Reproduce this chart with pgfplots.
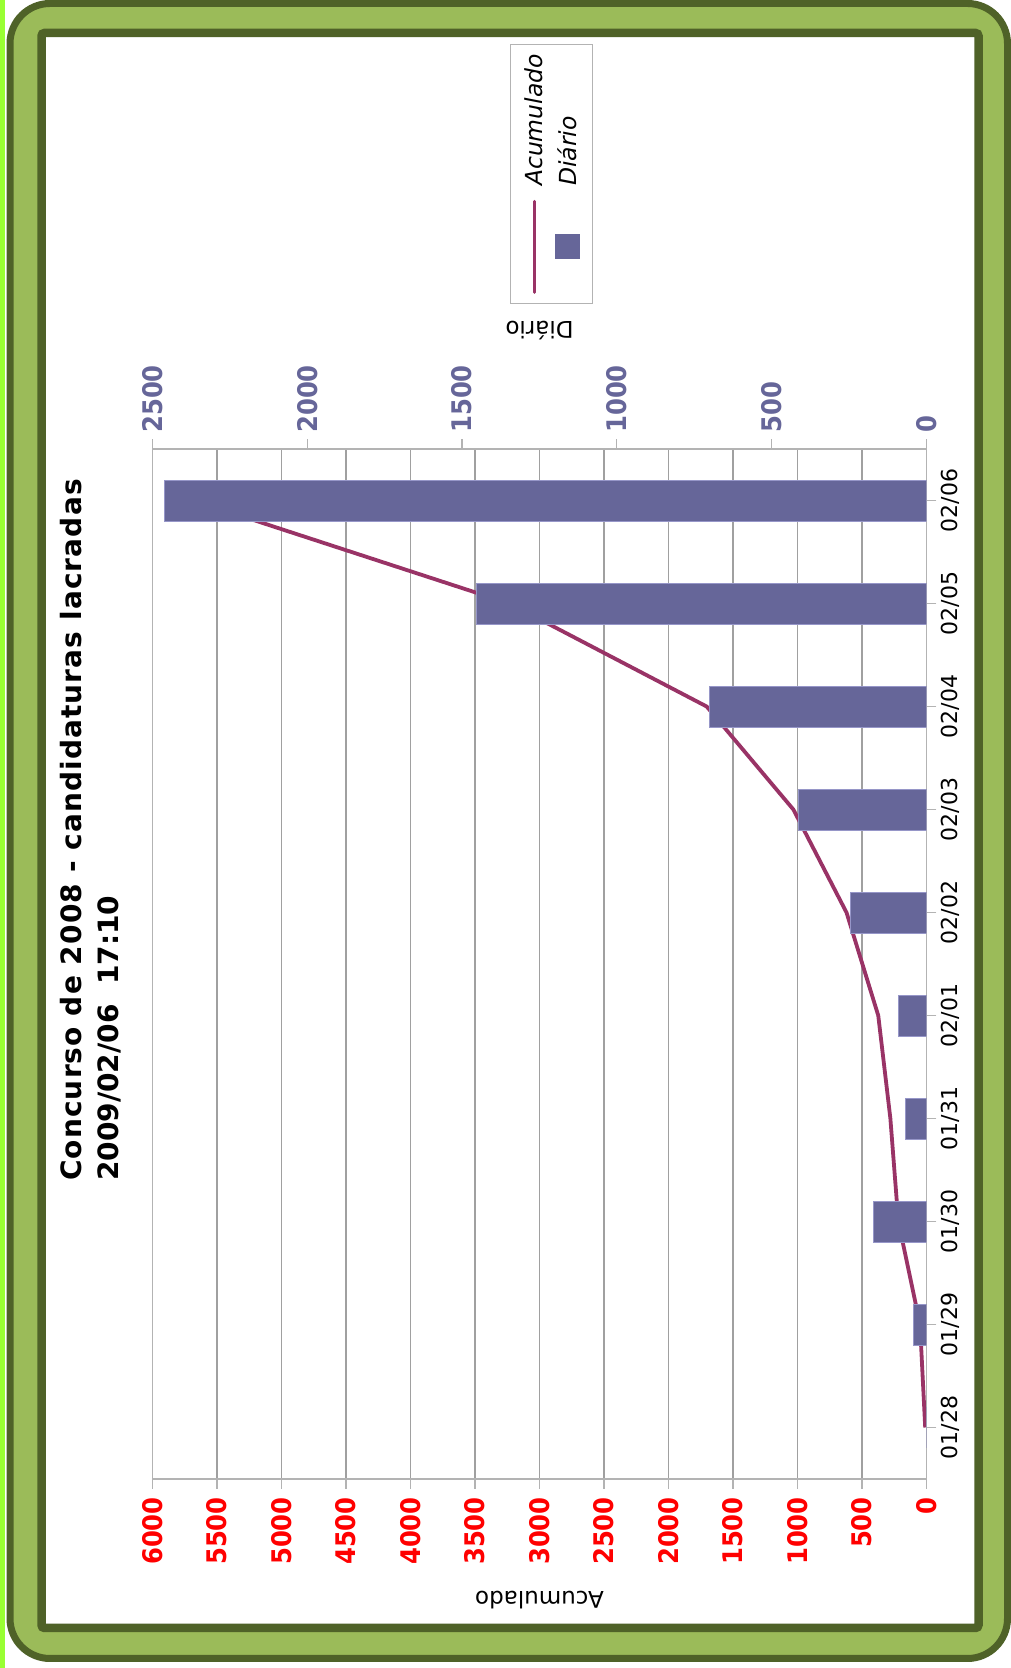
\documentclass[border=0pt]{standalone}
\usepackage{fontspec}
\setmainfont{DejaVu Sans}
\newfontfamily\tickfont[FakeStretch=0.9]{DejaVu Sans}
\usepackage{pgfplots}
\usepackage{pgfplotstable}
\pgfplotsset{compat=1.18}

\definecolor{frameGreen}{RGB}{155,187,89}
\definecolor{frameDark}{RGB}{79,98,40}
\definecolor{limeEdge}{RGB}{153,255,51}
\definecolor{barBlue}{RGB}{102,102,153}
\definecolor{barEdge}{RGB}{150,150,200}
\definecolor{lineRed}{RGB}{153,51,102}
\definecolor{gridGray}{RGB}{160,160,160}
\definecolor{axisGray}{RGB}{179,179,179}

% legend entries stand on their side, like the rest of the chart
\pgfplotsset{
  acclegend/.style={legend image code/.code={
    \path[draw=none,fill=none] (-16pt,0pt) rectangle (16pt,238pt);
    \draw[lineRed, line width=3pt, line cap=round] (0pt,0pt) -- (0pt,91pt);
    \node[rotate=90, anchor=west, inner sep=0pt, text=black,
      font=\fontsize{23.5}{23.5}\selectfont\itshape] at (0pt,106pt) {Acumulado};
  }},
  sqlegend/.style={legend image code/.code={
    \path[draw=none,fill=none] (-16pt,0pt) rectangle (16pt,238pt);
    \fill[barBlue] (-12pt,33.5pt) rectangle (12pt,57.5pt);
    \node[rotate=90, anchor=west, inner sep=0pt, text=black,
      font=\fontsize{23.5}{23.5}\selectfont\itshape] at (0pt,106pt) {Diário};
  }},
}

% day index, daily count, running total
\pgfplotstableread{
idx daily total
0 0 10
1 41 50
2 172 218
3 67 280
4 90 374
5 246 620
6 412 1032
7 702 1704
8 1454 3233
9 2460 5680
}\candtable

\begin{document}
\begin{tikzpicture}[x=1pt,y=1pt]
\useasboundingbox (0,0) rectangle (1011,1668);
\fill[limeEdge] (0,0) rectangle (5,1668);
\draw[frameDark, line width=7pt, fill=frameGreen, rounded corners=40pt] (10,9.5) rectangle (1007.5,1664.5);
\draw[frameDark, line width=8.5pt, fill=white, rounded corners=3pt] (41.5,40) rectangle (978.5,1635);

\begin{axis}[
  at={(152.5pt,189pt)}, anchor=south west,
  scale only axis, width=774pt, height=1030pt,
  x dir=reverse, xmin=0, xmax=6000, ymin=-0.5, ymax=9.5,
  xtick={0,500,...,6000}, ytick=\empty,
  xtick pos=left, tick align=outside, major tick length=10pt,
  xmajorgrids, grid style={gridGray, line width=1.2pt},
  axis line style={axisGray, line width=1.2pt},
  tick style={axisGray, line width=1.2pt},
  xticklabel style={rotate=90, anchor=east, inner sep=8pt, text=red,
    font=\fontsize{27}{27}\tickfont\bfseries},
  /pgf/number format/assume math mode=true,
  /pgf/number format/1000 sep={},
  xlabel={Acumulado},
  xlabel style={at={(axis description cs:0.5,-0.1175)}, anchor=center, rotate=180,
    font=\fontsize{23}{23}\selectfont},
]
\addplot[lineRed, line width=3.8pt, line join=round] table[x=total, y=idx] {\candtable};
\end{axis}

\begin{axis}[
  at={(152.5pt,189pt)}, anchor=south west,
  scale only axis, width=774pt, height=1030pt,
  x dir=reverse, xmin=0, xmax=2500, ymin=-0.5, ymax=9.5,
  axis x line*=top, axis y line*=right,
  xtick={0,500,...,2500}, ytick={0,...,9},
  yticklabels={01/28,01/29,01/30,01/31,02/01,02/02,02/03,02/04,02/05,02/06},
  tick align=outside, major tick length=10pt,
  axis line style={axisGray, line width=1.2pt},
  tick style={axisGray, line width=1.2pt},
  xticklabel style={rotate=90, anchor=west, inner sep=6pt, text=barBlue,
    font=\fontsize{27}{27}\tickfont\bfseries},
  yticklabel style={rotate=90, anchor=north, inner sep=4pt, font=\fontsize{22}{22}\selectfont},
  /pgf/number format/assume math mode=true,
  /pgf/number format/1000 sep={},
  xlabel={Diário},
  xlabel style={at={(axis description cs:0.5,1.1146)}, anchor=center, rotate=180,
    font=\fontsize{23}{23}\selectfont},
  legend columns=2,
  legend style={at={(axis description cs:0.5154,1.267)}, anchor=center,
    draw=axisGray, line width=1pt, inner xsep=8pt, inner ysep=10pt,
    column sep=0pt, row sep=0pt, nodes={inner sep=0pt}},
]
\addplot[xbar, bar width=41pt, fill=barBlue, draw=barEdge, line width=1pt, forget plot]
  table[x=daily, y=idx] {\candtable};
\addlegendimage{acclegend}
\addlegendentry{}
\addlegendimage{sqlegend}
\addlegendentry{}
\end{axis}

\node[rotate=90, anchor=north west, align=left, inner sep=0pt,
  font=\fontsize{28}{37}\selectfont\bfseries] at (60,487)
  {{\addfontfeature{LetterSpace=4}Concurso de 2008 - candidaturas lacradas}\\2009/02/06\ \ 17:10};
\end{tikzpicture}
\end{document}
